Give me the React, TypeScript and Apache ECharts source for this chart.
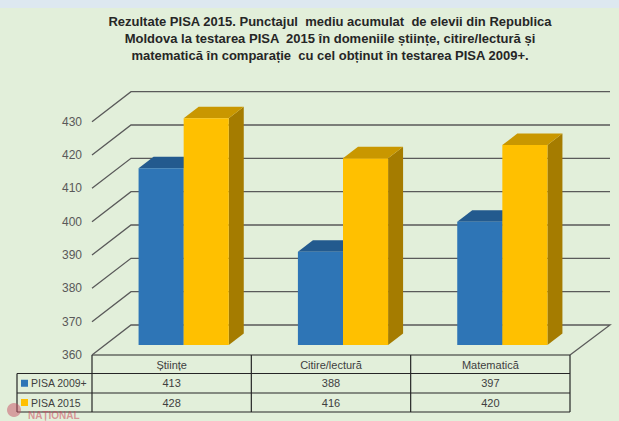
import { useEffect, useRef } from 'react';
import * as echarts from 'echarts';

const categories = ['Științe', 'Citire/lectură', 'Matematică'];
const seriesNames = ['PISA 2009+', 'PISA 2015'];
const pisa2009 = [413, 388, 397];
const pisa2015 = [428, 416, 420];
const yTicks = [360, 370, 380, 390, 400, 410, 420, 430];
const titleLines = [
  'Rezultate PISA 2015. Punctajul  mediu acumulat  de elevii din Republica',
  'Moldova la testarea PISA  2015 în domeniile științe, citire/lectură și',
  'matematică în comparație  cu cel obținut în testarea PISA 2009+.',
];

// 3d look: wall depth and where the bars sit inside it
const WALL_DX = 39;
const WALL_DY = -30;
const FRONT_DX = 12;
const FRONT_DY = -10;
const BAR_DX = 15;
const BAR_DY = -11.5;

const GRID = { left: 92, right: 49, top: 121.67, bottom: 66 };
const PLOT_W = 619 - GRID.left - GRID.right;
const COL_W = PLOT_W / categories.length;

const palette = [
  { front: '#2E75B6', top: '#235A8E', side: '#1F4E79' },
  { front: '#FFC000', top: '#C99700', side: '#A57C00' },
];

const font = '"Liberation Sans", Arial, sans-serif';

function barRenderer(idx: number) {
  const c = palette[idx];
  return (params: any, api: any) => {
    const cat = api.value(0);
    const v = api.value(1);
    const band = api.size([1, 0])[0];
    const bw = band * 0.283;
    const [cx, y0] = api.coord([cat, yTicks[0]]);
    const yTop = api.coord([cat, v])[1];
    const x0 = cx + (idx - 1) * bw + FRONT_DX;
    const top = yTop + FRONT_DY;
    const base = y0 + FRONT_DY;
    return {
      type: 'group',
      children: [
        {
          type: 'polygon',
          shape: { points: [[x0 + bw, top], [x0 + bw + BAR_DX, top + BAR_DY], [x0 + bw + BAR_DX, base + BAR_DY], [x0 + bw, base]] },
          style: { fill: c.side },
        },
        {
          type: 'polygon',
          shape: { points: [[x0, top], [x0 + BAR_DX, top + BAR_DY], [x0 + bw + BAR_DX, top + BAR_DY], [x0 + bw, top]] },
          style: { fill: c.top },
        },
        { type: 'rect', shape: { x: x0, y: top, width: bw, height: base - top }, style: { fill: c.front } },
      ],
    };
  };
}

function wallRenderer(params: any, api: any) {
  const cs = params.coordSys;
  const v = api.value(1);
  const fy = api.coord([0, v])[1];
  const fx = cs.x;
  const pts = [[fx, fy], [fx + WALL_DX, fy + WALL_DY], [fx + cs.width + WALL_DX + 1, fy + WALL_DY]];
  if (v === yTicks[0]) pts.push([fx + cs.width, fy]);
  return {
    type: 'polyline',
    shape: { points: pts },
    style: { stroke: '#5a5a5a', lineWidth: 1.3, fill: 'none' },
  };
}

function tableGraphics() {
  const x0 = GRID.left;
  const x1 = GRID.left + PLOT_W;
  const yHead = 421 - GRID.bottom;
  const rows = [373.5, 393, 412];
  const line = { stroke: '#262626', lineWidth: 1.2 };
  const els: any[] = [];
  els.push({ type: 'line', shape: { x1: x0, y1: yHead, x2: x1, y2: yHead }, style: line });
  rows.forEach((y) => els.push({ type: 'line', shape: { x1: 17, y1: y, x2: x1, y2: y }, style: line }));
  els.push({ type: 'line', shape: { x1: 17, y1: rows[0], x2: 17, y2: rows[2] }, style: line });
  for (let i = 0; i <= categories.length; i++) {
    const x = x0 + i * COL_W;
    els.push({ type: 'line', shape: { x1: x, y1: yHead, x2: x, y2: rows[2] }, style: line });
  }
  const data = [pisa2009, pisa2015];
  data.forEach((vals, r) => {
    const cy = (rows[r] + rows[r + 1]) / 2;
    els.push({ type: 'rect', shape: { x: 21, y: cy - 3.5, width: 7, height: 7 }, style: { fill: palette[r].front } });
    els.push({
      type: 'text',
      x: 31,
      y: cy,
      style: { text: seriesNames[r], font: `10.5px ${font}`, fill: '#404040', textVerticalAlign: 'middle' },
    });
    vals.forEach((v, i) => {
      els.push({
        type: 'text',
        x: x0 + (i + 0.5) * COL_W,
        y: cy,
        style: { text: String(v), font: `11px ${font}`, fill: '#404040', textAlign: 'center', textVerticalAlign: 'middle' },
      });
    });
  });
  return els;
}

export default function App() {
  const chartRef = useRef<HTMLDivElement>(null);

  useEffect(() => {
    if (!chartRef.current) return;
    const chart = echarts.init(chartRef.current, undefined, { renderer: 'svg' });

    chart.setOption({
      animation: false,
      backgroundColor: '#E2EFDA',
      grid: GRID,
      xAxis: {
        type: 'category',
        data: categories,
        axisLine: { show: false },
        axisTick: { show: false },
        axisLabel: { color: '#404040', fontSize: 11, fontFamily: font, margin: 4 },
      },
      yAxis: {
        type: 'value',
        min: 360,
        max: 430,
        interval: 10,
        axisLine: { show: false },
        axisTick: { show: false },
        splitLine: { show: false },
        axisLabel: { color: '#595959', fontSize: 12, fontFamily: font, margin: 10 },
      },
      graphic: [
        { type: 'rect', shape: { x: 0, y: 0, width: 619, height: 8 }, style: { fill: '#DDE8F0' }, z: -1 },
        ...titleLines.map((t, i) => ({
          type: 'text',
          x: 330,
          y: 21 + i * 17.3,
          style: {
            text: t,
            font: `bold 13px ${font}`,
            fill: '#262626',
            textAlign: 'center',
            textVerticalAlign: 'middle',
          },
        })),
        ...tableGraphics(),
        { type: 'circle', shape: { cx: 14, cy: 410, r: 7 }, style: { fill: 'rgba(200,80,100,0.5)' }, z: 10 },
        {
          type: 'text',
          x: 28,
          y: 415.5,
          z: 10,
          style: { text: 'NAȚIONAL', font: `bold 10px ${font}`, fill: 'rgba(205,70,90,0.55)', textVerticalAlign: 'middle' },
        },
      ],
      series: [
        {
          type: 'custom',
          name: 'walls',
          z: 1,
          silent: true,
          renderItem: wallRenderer,
          data: yTicks.map((v) => [0, v]),
        },
        {
          type: 'custom',
          name: seriesNames[0],
          z: 2,
          renderItem: barRenderer(0),
          data: pisa2009.map((v, i) => [i, v]),
        },
        {
          type: 'custom',
          name: seriesNames[1],
          z: 3,
          renderItem: barRenderer(1),
          data: pisa2015.map((v, i) => [i, v]),
        },
      ],
    });

    return () => chart.dispose();
  }, []);

  return <div ref={chartRef} style={{ position: 'fixed', left: 0, top: 0, width: 619, height: 421 }} />;
}
